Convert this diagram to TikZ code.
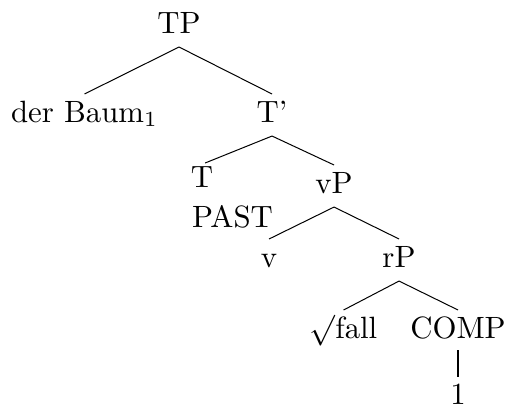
\documentclass[tikz,border=0pt]{standalone}
\begin{document}
\begin{tikzpicture}[scale=1.54,x=0.3247pt,y=-0.3247pt,
  lab/.style={transform shape,inner sep=0pt,outer sep=0pt,text height=9.1pt,text depth=4.55pt,anchor=base,font=\fontsize{10}{12}\selectfont},
  edge/.style={line width=0.5pt},
  vedge/.style={line width=1.1pt}]
\useasboundingbox (0,0) rectangle (509,407);
\node[lab] (TP) at (179,33) {TP};
\node[lab] (baum) at (84.5,122) {der Baum$_1$};
\node[lab] (Tbar) at (272,122) {T'};
\node[lab] (T) at (202,187) {T};
\node[lab] (past) at (232.5,227) {PAST};
\node[lab] (vP) at (334,193) {vP};
\node[lab] (v) at (269,267) {v};
\node[lab] (rP) at (399,267) {rP};
\node[lab] (fall) at (343.5,338) {$\surd$fall};
\node[lab] (COMP) at (458,338) {COMP};
\node[lab] (one) at (458,404) {1};
\draw[edge] (TP.south) -- (baum.north);
\draw[edge] (TP.south) -- (Tbar.north);
\draw[edge] (Tbar.south) -- ([xshift=1pt,yshift=-1.3pt]T.north);
\draw[edge] (Tbar.south) -- (vP.north);
\draw[edge] (vP.south) -- (v.north);
\draw[edge] (vP.south) -- (rP.north);
\draw[edge] (rP.south) -- (fall.north);
\draw[edge] (rP.south) -- (COMP.north);
\draw[vedge] ([yshift=0.6pt]COMP.south) -- ([yshift=-0.3pt]one.north);
\end{tikzpicture}
\end{document}
